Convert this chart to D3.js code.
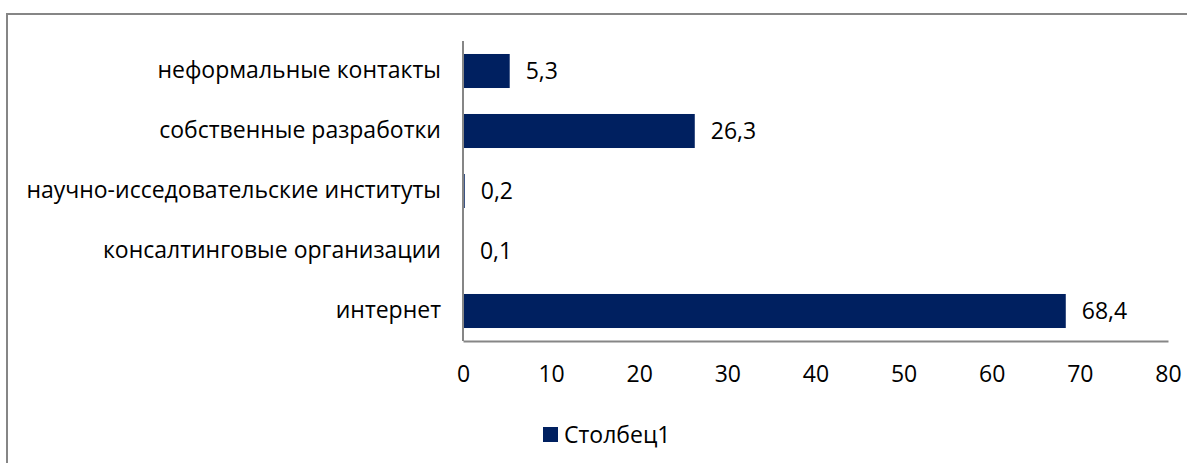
<!DOCTYPE html>
<html lang="ru">
<head>
    <meta charset="UTF-8" />
    <title>Источники информации</title>
    <script src="https://d3js.org/d3.v7.min.js"></script>
    <style>
        body { margin: 0; background: #fff; }
        text { font-family: "Open Sans", "Noto Sans", sans-serif; fill: #000; }
    </style>
</head>
<body>
<script>
    // data
    var categories = ["неформальные контакты", "собственные разработки", "научно-исседовательские институты", "консалтинговые организации", "интернет"];
    var values = [5.3, 26.3, 0.2, 0.1, 68.4];
    var xTicks = [0, 10, 20, 30, 40, 50, 60, 70, 80];
    var seriesName = "Столбец1";

    var w = 1187;
    var h = 463;
    var plotLeft = 463, plotRight = 1168, plotTop = 41, plotBottom = 341;
    var barColor = "#002060";
    var fontSize = 23;

    var svg = d3.select("body")
        .append("svg")
        .attr("width", w)
        .attr("height", h);

    svg.append("rect")
        .attr("width", w).attr("height", h)
        .attr("fill", "#fff");

    // outer frame (runs off the right and bottom edges)
    svg.append("rect")
        .attr("x", 7).attr("y", 14)
        .attr("width", w + 10).attr("height", h + 10)
        .attr("fill", "none")
        .attr("stroke", "#868686")
        .attr("stroke-width", 2);

    var xScale = d3.scaleLinear()
        .domain([0, 80])
        .range([plotLeft, plotRight]);

    var yScale = d3.scaleBand()
        .domain(categories)
        .range([plotTop, plotBottom])
        .paddingInner(0.433)
        .paddingOuter(0.2165);

    // bars
    svg.selectAll("rect.bar")
        .data(values)
        .enter()
        .append("rect")
        .attr("class", "bar")
        .attr("x", xScale(0))
        .attr("y", function(d, i) { return yScale(categories[i]); })
        .attr("width", function(d) { return xScale(d) - xScale(0); })
        .attr("height", yScale.bandwidth())
        .attr("fill", barColor);

    // value labels
    svg.selectAll("text.val")
        .data(values)
        .enter()
        .append("text")
        .attr("class", "val")
        .attr("x", function(d) { return xScale(d) + 16; })
        .attr("y", function(d, i) { return yScale(categories[i]) + yScale.bandwidth() / 2; })
        .attr("dy", "0.35em")
        .attr("font-size", fontSize)
        .text(function(d) { return String(d).replace(".", ","); });

    // category axis
    var yAxis = d3.axisLeft(yScale).tickSize(0).tickPadding(22);
    var gy = svg.append("g")
        .attr("transform", "translate(" + plotLeft + ",0)")
        .call(yAxis);
    gy.select(".domain").attr("stroke", "#868686").attr("stroke-width", 2)
        .attr("d", "M0," + plotTop + "V" + plotBottom);
    gy.selectAll("text")
        .attr("font-size", fontSize)
        .attr("font-family", "Open Sans")
        .attr("fill", "#000");

    // value axis
    var xAxis = d3.axisBottom(xScale).tickValues(xTicks).tickSize(0).tickPadding(25);
    var gx = svg.append("g")
        .attr("transform", "translate(0," + plotBottom + ")")
        .call(xAxis);
    gx.select(".domain").attr("stroke", "#868686").attr("stroke-width", 2);
    gx.selectAll("text")
        .attr("font-size", fontSize)
        .attr("font-family", "Open Sans")
        .attr("fill", "#000");

    // legend
    var legend = svg.append("g").attr("transform", "translate(543,427)");
    legend.append("rect")
        .attr("width", 15).attr("height", 15)
        .attr("fill", barColor);
    legend.append("text")
        .attr("x", 21).attr("y", 7.5)
        .attr("dy", "0.35em")
        .attr("font-size", fontSize)
        .text(seriesName);
</script>
</body>
</html>
